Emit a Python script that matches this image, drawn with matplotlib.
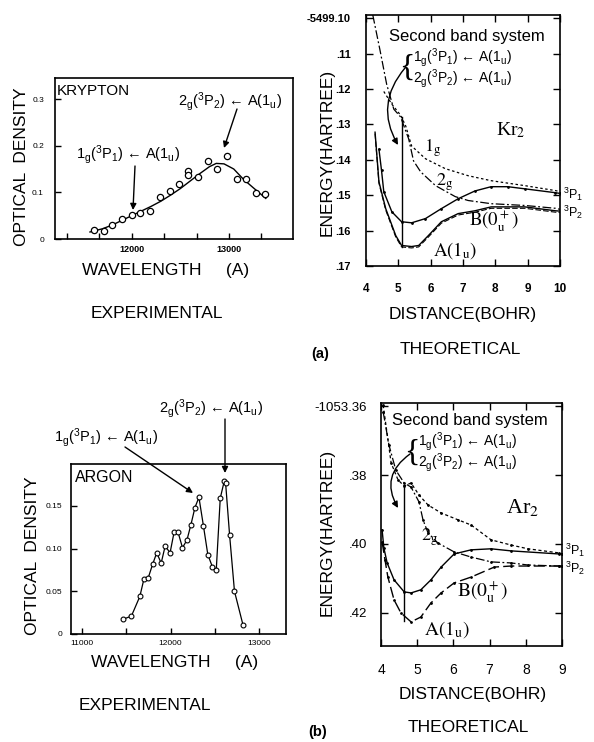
import matplotlib
matplotlib.use('Agg')
import matplotlib.pyplot as plt

plt.rcParams['font.family'] = ['Liberation Sans', 'DejaVu Sans']
plt.rcParams['mathtext.fontset'] = 'custom'
plt.rcParams['mathtext.rm'] = 'Liberation Sans'
plt.rcParams['mathtext.it'] = 'Liberation Sans'
plt.rcParams['mathtext.bf'] = 'Liberation Sans:bold'

W, H = 594, 742

# ---- (a) krypton, experimental ----
kr_wl = [11610, 11710, 11800, 11900, 12000, 12090, 12190, 12290, 12390, 12490,
         12580, 12580, 12680, 12780, 12880, 12980, 13080, 13180, 13280, 13370]
kr_od = [0.019, 0.017, 0.029, 0.042, 0.051, 0.055, 0.061, 0.089, 0.102, 0.117,
         0.146, 0.137, 0.133, 0.167, 0.151, 0.177, 0.128, 0.128, 0.098, 0.097]
kr_fit_wl = [11570, 11700, 11800, 11900, 12000, 12100, 12200, 12300, 12400, 12500,
             12600, 12700, 12800, 12870, 12950, 13050, 13150, 13250, 13380]
kr_fit_od = [0.015, 0.022, 0.030, 0.040, 0.050, 0.060, 0.070, 0.081, 0.094, 0.108,
             0.124, 0.140, 0.155, 0.162, 0.161, 0.150, 0.128, 0.110, 0.087]

# ---- (a) Kr2, theoretical (energy = -5499.xx, stored as .xx) ----
kr_B_r = [4.40, 4.48, 4.55, 4.80, 5.10, 5.41, 5.84, 6.33, 6.85, 7.37, 7.87, 8.39, 8.91, 9.86, 10.0]
kr_B_e = [0.1370, 0.1430, 0.1490, 0.1547, 0.1575, 0.1578, 0.1566, 0.1538, 0.1510, 0.1488,
          0.1476, 0.1476, 0.1482, 0.1493, 0.1495]
kr_A_r = [4.28, 4.40, 4.61, 4.92, 5.10, 5.41, 5.63, 5.93, 6.33, 6.85, 7.37, 7.87, 8.39, 8.91, 9.86, 10.0]
kr_A_e = [0.1322, 0.1462, 0.1538, 0.1614, 0.1642, 0.1645, 0.1642, 0.1614, 0.1575, 0.1552,
          0.1544, 0.1533, 0.1533, 0.1533, 0.1544, 0.1545]
kr_1g_r = [4.55, 4.80, 5.07, 5.23, 5.41, 5.84, 6.45, 7.16, 7.87, 8.91, 9.86, 10.0]
kr_1g_e = [0.1207, 0.1243, 0.1274, 0.1305, 0.1361, 0.1397, 0.1425, 0.1445, 0.1459, 0.1473,
           0.1487, 0.1490]
kr_2g_r = [4.21, 4.43, 4.64, 4.86, 5.07, 5.32, 5.47, 5.69, 6.15, 6.76, 7.16, 7.87, 8.91, 9.86, 10.0]
kr_2g_e = [0.0991, 0.1089, 0.1187, 0.1257, 0.1279, 0.1341, 0.1403, 0.1434, 0.1473, 0.1504,
           0.1515, 0.1524, 0.1529, 0.1537, 0.1540]
kr_vert_r = [5.10, 5.10]
kr_vert_e = [0.1280, 0.1645]
kr_yticks = [0.10, 0.11, 0.12, 0.13, 0.14, 0.15, 0.16, 0.17]
kr_ylabels = ['-5499.10', '.11', '.12', '.13', '.14', '.15', '.16', '.17']

# ---- (b) argon, experimental ----
ar_wl = [11460, 11560, 11655, 11700, 11750, 11800, 11845, 11895, 11940, 11995,
         12040, 12085, 12135, 12185, 12230, 12275, 12320, 12370, 12420, 12470,
         12515, 12560, 12605, 12620, 12665, 12720, 12815]
ar_od = [0.017, 0.021, 0.044, 0.064, 0.066, 0.082, 0.095, 0.083, 0.103, 0.095,
         0.119, 0.119, 0.101, 0.110, 0.128, 0.148, 0.160, 0.127, 0.093, 0.079,
         0.075, 0.159, 0.179, 0.177, 0.116, 0.050, 0.011]

# ---- (b) Ar2, theoretical (energy = -1053.xx) ----
ar_1g_r = [4.06, 4.28, 4.47, 4.64, 4.83, 5.05, 5.30, 5.66, 6.13, 6.49, 7.04, 7.59, 8.06, 8.92, 9.0]
ar_1g_e = [0.3597, 0.3765, 0.3814, 0.3832, 0.3823, 0.3858, 0.3887, 0.3910, 0.3930, 0.3945,
           0.3988, 0.4003, 0.4014, 0.4026, 0.4029]
ar_2g_r = [4.06, 4.22, 4.41, 4.64, 4.83, 5.05, 5.16, 5.30, 5.57, 6.02, 6.49, 7.04, 7.59, 8.06, 8.92, 9.0]
ar_2g_e = [0.3617, 0.3713, 0.3786, 0.3823, 0.3835, 0.3878, 0.3930, 0.3968, 0.3997, 0.4023,
           0.4038, 0.4052, 0.4055, 0.4061, 0.4064, 0.4064]
ar_B_r = [4.03, 4.08, 4.17, 4.36, 4.64, 4.83, 5.10, 5.38, 5.66, 6.02, 6.49, 7.04, 7.59, 8.92, 9.0]
ar_B_e = [0.3959, 0.4012, 0.4055, 0.4104, 0.4139, 0.4142, 0.4133, 0.4104, 0.4067, 0.4029,
          0.4017, 0.4014, 0.4020, 0.4029, 0.4029]
ar_A_r = [4.03, 4.11, 4.19, 4.36, 4.55, 4.83, 5.10, 5.38, 5.66, 6.02, 6.49, 7.13, 7.59, 8.92, 9.0]
ar_A_e = [0.3994, 0.4046, 0.4096, 0.4162, 0.4200, 0.4226, 0.4212, 0.4171, 0.4142, 0.4113,
          0.4096, 0.4067, 0.4064, 0.4064, 0.4064]
ar_vert_r = [4.64, 4.64]
ar_vert_e = [0.3829, 0.4223]
ar_yticks = [0.36, 0.38, 0.40, 0.42]
ar_ylabels = ['-1053.36', '.38', '.40', '.42']

LBL_1G = r'$\mathregular{1_g({}^3P_1)}$ ← $\mathregular{A(1_u)}$'
LBL_2G = r'$\mathregular{2_g({}^3P_2)}$ ← $\mathregular{A(1_u)}$'

fig = plt.figure(figsize=(W / 100, H / 100), dpi=100)


def box(x0, y0, x1, y1):
    return fig.add_axes([x0 / W, 1 - y1 / H, (x1 - x0) / W, (y1 - y0) / H])


def P(px, py):
    return (px / W, 1 - py / H)


def ftext(px, py, s, ha='center', **kw):
    fig.text(px / W, 1 - py / H, s, ha=ha, va='center', **kw)


def arrow(ax, p0, p1, rad=0.0):
    ax.annotate('', xy=P(*p1), xycoords='figure fraction',
                xytext=P(*p0), textcoords='figure fraction',
                annotation_clip=False,
                arrowprops=dict(arrowstyle='-|>', color='k', lw=1.0,
                                mutation_scale=9, shrinkA=0, shrinkB=0,
                                connectionstyle='arc3,rad=%s' % rad))


def style(ax, lw=1.2):
    for s in ax.spines.values():
        s.set_linewidth(lw)
    ax.tick_params(direction='in', length=4, width=1, top=True, right=True)


serif = dict(family='Liberation Serif', math_fontfamily='stix')

# ===== Krypton experimental =====
ax1 = box(55, 78, 293, 239)
style(ax1)
ax1.plot(kr_fit_wl, kr_fit_od, color='k', lw=1.0)
ax1.plot(kr_wl, kr_od, 'o', mfc='white', mec='k', ms=4.5, mew=0.9)
ax1.set_xlim(11210, 13660)
ax1.set_ylim(0, 0.345)
ax1.set_xticks([12000 + k * 1000 / 3 for k in range(-2, 5)])
ax1.set_xticklabels(['', '', '12000', '', '', '13000', ''], fontsize=6.5, fontweight='bold')
ax1.set_yticks([0, 0.1, 0.2, 0.3])
ax1.set_yticklabels(['0', '0.1', '0.2', '0.3'], fontsize=6)
ax1.tick_params(axis='x', pad=4)
ax1.tick_params(axis='y', pad=8)
ax1.tick_params(top=False, right=False)
ftext(57, 91, 'KRYPTON', ha='left', fontsize=11)
ftext(128, 155, LBL_1G, fontsize=10.5)
ftext(230, 102, LBL_2G, fontsize=10.5)
arrow(ax1, (135, 166), (133, 210))
arrow(ax1, (237, 109), (224, 148))
ftext(22, 167, 'OPTICAL  DENSITY', rotation=90, fontsize=12.5)
ftext(166, 270, 'WAVELENGTH     (A)', fontsize=12.5)
ftext(157, 314, 'EXPERIMENTAL', fontsize=12.5)

# ===== Kr2 theoretical =====
ax2 = box(366, 15, 560, 266)
style(ax2)
ax2.plot(kr_2g_r, kr_2g_e, color='k', lw=0.9, ls=(0, (7, 2, 1.5, 2)))
ax2.plot(kr_1g_r, kr_1g_e, color='k', lw=0.9, ls=(0, (2, 2)))
ax2.plot(kr_B_r, kr_B_e, color='k', lw=1.0, marker='.', ms=2)
ax2.plot(kr_A_r, kr_A_e, color='k', lw=1.0)
ax2.plot(kr_A_r, [e + 0.0004 for e in kr_A_e], color='k', lw=0.8, ls=(0, (5, 2)))
ax2.plot(kr_vert_r, kr_vert_e, color='k', lw=1.0)
ax2.set_xlim(4, 10)
ax2.set_ylim(0.1700, 0.0991)
ax2.set_xticks(range(4, 11))
ax2.set_xticklabels([str(v) for v in range(4, 11)], fontsize=8.5, fontweight='bold')
ax2.set_yticks(kr_yticks)
ax2.set_yticklabels(kr_ylabels, fontsize=8, fontweight='bold')
ax2.tick_params(axis='x', pad=12, length=5)
ax2.tick_params(axis='y', pad=11, length=5)
ftext(467, 37, 'Second band system', fontsize=12)
ftext(407, 68, '{', fontsize=23, family='Liberation Serif')
ftext(413, 58, LBL_1G, ha='left', fontsize=10)
ftext(413, 79, LBL_2G, ha='left', fontsize=10)
arrow(ax2, (405, 68), (398, 145), rad=0.35)
ftext(511, 130, r'Kr$_2$', fontsize=14, **serif)
ftext(433, 148, r'$\mathrm{1_g}$', fontsize=13, **serif)
ftext(445, 182, r'$\mathrm{2_g}$', fontsize=13, **serif)
ftext(494, 220, r'$\mathrm{B(0_u^+)}$', fontsize=13.5, **serif)
ftext(455, 251, r'$\mathrm{A(1_u)}$', fontsize=13.5, **serif)
ftext(563, 194, r'$\mathregular{{}^3P_1}$', ha='left', fontsize=9)
ftext(563, 212, r'$\mathregular{{}^3P_2}$', ha='left', fontsize=9)
ftext(327, 152, 'ENERGY(HARTREE)', rotation=90, fontsize=12.5)
ftext(463, 315, 'DISTANCE(BOHR)', fontsize=12.5)
ftext(460, 350, 'THEORETICAL', fontsize=12.5)
ftext(320, 354, '(a)', fontsize=10.5, fontweight='bold')

# ===== Argon experimental =====
ax3 = box(71, 464, 286, 634)
style(ax3)
ax3.plot(ar_wl, ar_od, color='k', lw=0.9, marker='o', mfc='white', mec='k', ms=3.5, mew=0.8)
ax3.set_xlim(10880, 13300)
ax3.set_ylim(0, 0.199)
ax3.set_xticks([11000, 11500, 12000, 12500, 13000])
ax3.set_xticklabels(['11000', '', '12000', '', '13000'], fontsize=6)
ax3.set_yticks([0, 0.05, 0.10, 0.15])
ax3.set_yticklabels(['0', '0.05', '0.10', '0.15'], fontsize=6)
ax3.tick_params(axis='x', pad=4)
ax3.tick_params(axis='y', pad=6)
ax3.tick_params(top=False, right=False)
ftext(75, 477, 'ARGON', ha='left', fontsize=11.5)
ftext(106, 438, LBL_1G, fontsize=10.5)
ftext(211, 409, LBL_2G, fontsize=10.5)
arrow(ax3, (125, 447), (193, 493))
arrow(ax3, (225, 419), (225, 473))
ftext(33, 556, 'OPTICAL  DENSITY', rotation=90, fontsize=12.5)
ftext(175, 663, 'WAVELENGTH     (A)', fontsize=12.5)
ftext(145, 705, 'EXPERIMENTAL', fontsize=12.5)

# ===== Ar2 theoretical =====
ax4 = box(381, 403, 562, 646)
style(ax4)
ax4.plot(ar_1g_r, ar_1g_e, color='k', lw=0.9, ls=(0, (2.5, 2)), marker='.', ms=2)
ax4.plot(ar_2g_r, ar_2g_e, color='k', lw=0.9, ls=(0, (7, 2, 1.5, 2)), marker='.', ms=2)
ax4.plot(ar_B_r, ar_B_e, color='k', lw=1.0, marker='.', ms=2)
ax4.plot(ar_A_r, ar_A_e, color='k', lw=1.0, ls=(0, (8, 3)), marker='.', ms=2)
ax4.plot(ar_vert_r, ar_vert_e, color='k', lw=1.0)
ax4.set_xlim(4, 9)
ax4.set_ylim(0.4296, 0.3591)
ax4.set_xticks(range(4, 10))
ax4.set_xticklabels([str(v) for v in range(4, 10)], fontsize=10)
ax4.set_yticks(ar_yticks)
ax4.set_yticklabels(ar_ylabels, fontsize=9.5)
ax4.tick_params(axis='x', pad=12, length=5)
ax4.tick_params(axis='y', pad=10, length=5)
ftext(470, 421, 'Second band system', fontsize=12)
ftext(412, 453, '{', fontsize=23, family='Liberation Serif')
ftext(418, 442, LBL_1G, ha='left', fontsize=10)
ftext(418, 463, LBL_2G, ha='left', fontsize=10)
arrow(ax4, (410, 454), (398, 508), rad=0.45)
ftext(523, 508, r'Ar$_2$', fontsize=16, **serif)
ftext(430, 537, r'$\mathrm{2_g}$', fontsize=13, **serif)
ftext(483, 592, r'$\mathrm{B(0_u^+)}$', fontsize=14, **serif)
ftext(447, 630, r'$\mathrm{A(1_u)}$', fontsize=14, **serif)
ftext(565, 550, r'$\mathregular{{}^3P_1}$', ha='left', fontsize=9)
ftext(565, 568, r'$\mathregular{{}^3P_2}$', ha='left', fontsize=9)
ftext(327, 532, 'ENERGY(HARTREE)', rotation=90, fontsize=12.5)
ftext(473, 695, 'DISTANCE(BOHR)', fontsize=12.5)
ftext(468, 727, 'THEORETICAL', fontsize=12.5)
ftext(318, 732, '(b)', fontsize=10.5, fontweight='bold')

fig.savefig('out.png', dpi=100)
